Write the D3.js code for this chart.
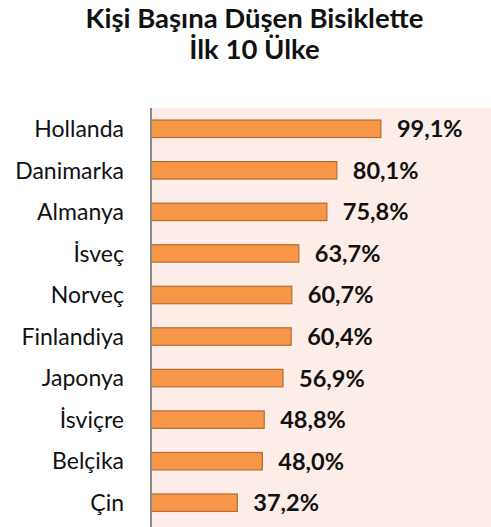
<!DOCTYPE html>
<html>
<head>
<meta charset="utf-8">
<script src="https://cdn.jsdelivr.net/npm/d3@7"></script>
<style>
  body { margin: 0; background: #fff; }
  svg { display: block; font-family: Lato, "Open Sans", sans-serif; }
</style>
</head>
<body>
<svg></svg>
<script>
// Data.
const countries = ['Hollanda', 'Danimarka', 'Almanya', 'İsveç', 'Norveç', 'Finlandiya', 'Japonya', 'İsviçre', 'Belçika', 'Çin'];
const shares = [99.1, 80.1, 75.8, 63.7, 60.7, 60.4, 56.9, 48.8, 48.0, 37.2];
const titleLines = ['Kişi Başına Düşen Bisiklette', 'İlk 10 Ülke'];

// Set up.
const width = 491;
const height = 527;
const plot = { left: 151, top: 108, right: 491, bottom: 527 };

const svg = d3.select('svg')
  .attr('width', width)
  .attr('height', height);

// Plot background.
svg.append('rect')
  .attr('x', plot.left)
  .attr('y', plot.top)
  .attr('width', plot.right - plot.left)
  .attr('height', plot.bottom - plot.top)
  .attr('fill', '#fcede8');

// Scales.
const x = d3.scaleLinear()
  .domain([0, 100])
  .range([plot.left, plot.left + 232]);

const y = d3.scaleBand()
  .domain(countries)
  .range([plot.top, 523.5])
  .paddingInner(0.58)
  .paddingOuter(0.29);

const rows = countries.map((c, i) => ({ country: c, value: shares[i] }));

// Bars.
svg.append('g')
  .selectAll('rect')
  .data(rows)
  .join('rect')
  .attr('x', x(0))
  .attr('y', d => y(d.country))
  .attr('width', d => x(d.value) - x(0))
  .attr('height', y.bandwidth())
  .attr('fill', '#f79646')
  .attr('stroke', '#b66d31')
  .attr('stroke-width', 1.2);

// Value labels.
const fmt = v => v.toFixed(1).replace('.', ',') + '%';
svg.append('g')
  .selectAll('text')
  .data(rows)
  .join('text')
  .attr('x', d => x(d.value) + 16)
  .attr('y', d => y(d.country) + y.bandwidth() / 2)
  .attr('dy', '0.36em')
  .attr('font-size', 23.5)
  .attr('font-weight', 'bold')
  .attr('fill', '#111')
  .text(d => fmt(d.value));

// Category axis.
const yAxis = d3.axisLeft(y).tickSize(0).tickPadding(27);
const ax = svg.append('g')
  .attr('transform', `translate(${plot.left},0)`)
  .call(yAxis);
ax.select('.domain')
  .attr('d', `M0,${plot.top}V${plot.bottom}`)
  .attr('stroke', '#888')
  .attr('stroke-width', 2);
ax.selectAll('text')
  .attr('font-size', 23)
  .attr('font-family', 'Lato, "Open Sans", sans-serif')
  .attr('dy', '0.36em')
  .attr('fill', '#111');

// Title.
svg.append('g')
  .selectAll('text')
  .data(titleLines)
  .join('text')
  .attr('x', 254.5)
  .attr('y', (d, i) => 28 + i * 31)
  .attr('text-anchor', 'middle')
  .attr('font-size', 27.5)
  .attr('font-weight', 'bold')
  .attr('fill', '#111')
  .text(d => d);
</script>
</body>
</html>
